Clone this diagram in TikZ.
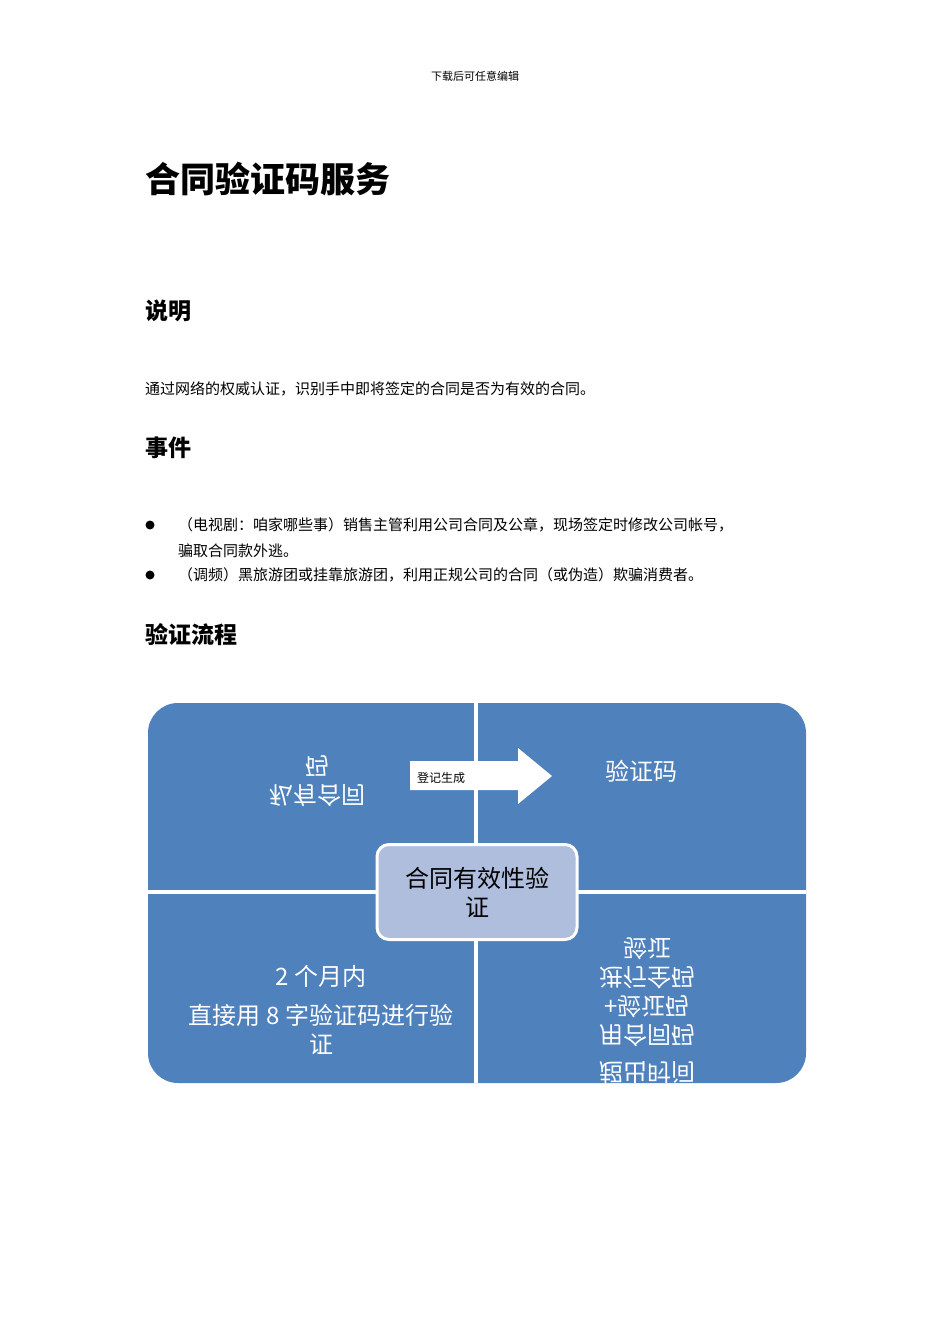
\documentclass[tikz,border=0pt]{standalone}
\usepackage{fontspec}
\usepackage{graphicx}
\setmainfont{Liberation Serif}
\newfontfamily\cjk{Noto Sans CJK SC}
\definecolor{qblue}{HTML}{4F81BD}
\definecolor{cbox}{HTML}{B0BEDD}
\newcommand{\vflip}[1]{\scalebox{1}[-1]{#1}}
\begin{document}
\begin{tikzpicture}[x=1pt,y=-1pt,
  txt/.style={anchor=west,inner sep=0pt,font=\cjk},
  qtext/.style={text=white,align=center,font=\cjk\fontsize{24}{29}\selectfont,inner sep=0pt}]
\useasboundingbox[fill=white] (0,0) rectangle (950,1344);
\node[inner sep=0pt,font=\cjk\fontsize{11}{13}\selectfont] (hdr) at (475,76) {下载后可任意编辑};
\node[txt,font=\cjk\bfseries\fontsize{35}{40}\selectfont] (title) at (145,179) {合同验证码服务};
\node[txt,font=\cjk\bfseries\fontsize{23}{26}\selectfont] (s1) at (145,311) {说明};
\node[txt,font=\cjk\fontsize{15}{17}\selectfont] (p1) at (145,389) {通过网络的权威认证，识别手中即将签定的合同是否为有效的合同。};
\node[txt,font=\cjk\bfseries\fontsize{23}{26}\selectfont] (s2) at (145,448) {事件};
\fill (150,525) circle (4.5);
\node[txt,font=\cjk\fontsize{15}{17}\selectfont] (b1) at (178,525) {（电视剧：咱家哪些事）销售主管利用公司合同及公章，现场签定时修改公司帐号，};
\node[txt,font=\cjk\fontsize{15}{17}\selectfont] (b1b) at (178,551) {骗取合同款外逃。};
\fill (150,575) circle (4.5);
\node[txt,font=\cjk\fontsize{15}{17}\selectfont] (b2) at (178,575) {（调频）黑旅游团或挂靠旅游团，利用正规公司的合同（或伪造）欺骗消费者。};
\node[txt,font=\cjk\bfseries\fontsize{23}{26}\selectfont] (s3) at (145,635) {验证流程};
% diagram
\fill[qblue,rounded corners=30] (148,703) rectangle (806,1083);
\draw[white,line width=4] (476,703) -- (476,1083);
\draw[white,line width=4] (148,892) -- (806,892);
\fill[white] (410,761) -- (518,761) -- (518,748) -- (552,776) -- (518,804) -- (518,790) -- (410,790) -- cycle;
\node[txt,font=\cjk\fontsize{12}{14}\selectfont] (arrl) at (417,778) {登记生成};
\node[qtext] (tl) at (317,778) {\vflip{\begin{tabular}{@{}c@{}}私有合同\\码\end{tabular}}};
\node[qtext] (tr) at (641,771) {验证码};
\node[qtext] (bl) at (321,1010) {2 个月内\\[10pt]直接用 8 字验证码进行验\\证};
\node[qtext] (br) at (647,1007) {\vflip{\begin{tabular}{@{}c@{}}超出时间\\[8pt]用合同码\\+验证码\\进行全码\\验证\end{tabular}}};
\node[draw=white,line width=3,fill=cbox,rounded corners=12,minimum width=200,minimum height=95,align=center,inner sep=0pt,font=\cjk\fontsize{24}{29}\selectfont] (c) at (477,892) {合同有效性验\\证};
\end{tikzpicture}
\end{document}
